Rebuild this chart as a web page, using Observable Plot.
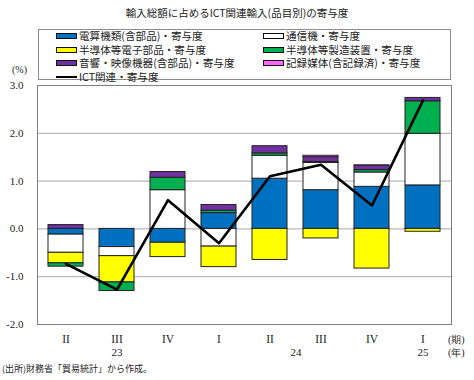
<!DOCTYPE html>
<html><head><meta charset="utf-8">
<script src="https://cdn.jsdelivr.net/npm/d3@7"></script>
<script src="https://cdn.jsdelivr.net/npm/@observablehq/plot@0.6"></script>
<style>
body{margin:0;background:#fff;}
#wrap{position:relative;width:474px;height:380px;font-family:"Noto Sans CJK JP",sans-serif;color:#222;}
#title{position:absolute;left:0;width:474px;top:5px;text-align:center;font-size:10.5px;}
#legend{position:absolute;left:38px;top:29px;width:413px;height:51px;border:1px solid #8c8c8c;box-sizing:border-box;}
.li{position:absolute;font-size:10.6px;line-height:12px;white-space:nowrap;}
.sw{display:inline-block;width:19px;height:4px;border:1px solid #111;vertical-align:middle;margin-right:2px;margin-top:-2px;}
.ln{display:inline-block;width:21px;height:0;border-top:2.5px solid #000;vertical-align:middle;margin-right:2px;margin-top:-2px;}
.note{position:absolute;font-size:9px;}
.unit{position:absolute;font-family:"Liberation Serif",serif;font-size:10px;}
</style></head>
<body><div id="wrap">
<div id="title">輸入総額に占めるICT関連輸入(品目別)の寄与度</div>
<div id="legend"></div>
<div class="unit" style="left:12px;top:64px;">(%)</div>
<div class="unit" style="left:448px;top:333px;">(期)</div>
<div class="unit" style="left:448px;top:346px;">(年)</div>
<div class="note" style="left:2px;top:362px;">(出所)財務省「貿易統計」から作成。</div>
<div id="chart"></div>
</div>
<script>
const quarters = ["II","III","IV","I","II","III","IV","I"];
const years = ["23","23","23","24","24","24","24","25"];
const yearLabels = [{year:"23", idx:1}, {year:"24", idx:4}, {year:"25", idx:7}];
const seriesNames = ["電算機類(含部品)・寄与度","通信機・寄与度","半導体等電子部品・寄与度","半導体等製造装置・寄与度","音響・映像機器(含部品)・寄与度","記録媒体(含記録済)・寄与度"];
const seriesColors = ["#0070C0","#FFFFFF","#FFFF00","#00B050","#7030A0","#FF66FF"];
const computers  = [-0.12,-0.38,-0.29, 0.33, 1.05, 0.81, 0.88, 0.91];
const telecom    = [-0.38,-0.19, 0.81,-0.37, 0.48, 0.57, 0.30, 1.08];
const semis      = [-0.22,-0.55,-0.30,-0.43,-0.65,-0.20,-0.83,-0.06];
const equipment  = [-0.07,-0.18, 0.26, 0.05, 0.05, 0.02, 0.05, 0.68];
const audio      = [ 0.08, 0.00, 0.12, 0.12, 0.15, 0.10, 0.09, 0.07];
const media      = [ 0.00, 0.00, 0.00, 0.00, 0.00, 0.03, 0.01, 0.00];
const ictName = "ICT関連・寄与度";
const ictTotal   = [-0.73,-1.27, 0.60,-0.30, 1.10, 1.34, 0.49, 2.69];
const yTicks = [-2,-1,0,1,2,3];

const seriesValues = [computers, telecom, semis, equipment, audio, media];
const idx = quarters.map((q,i)=>i);
const barData = [];
idx.forEach(i => seriesValues.forEach((vals,s) => {
  if (vals[i] !== 0) barData.push({i, series: seriesNames[s], value: vals[i]});
}));
const lineData = idx.map(i => ({i, value: ictTotal[i]}));

// legend
const leg = document.getElementById("legend");
const items = seriesNames.map((n,s)=>({name:n, color:seriesColors[s]})).concat([{name:ictName, line:true}]);
items.forEach((it,k)=>{
  const d = document.createElement("div");
  d.className = "li";
  d.style.left = (k%2===0 ? 17 : 224) + "px";
  d.style.top = (Math.floor(k/2)*13.6 + 0) + "px";
  d.innerHTML = (it.line ? '<span class="ln"></span>' : `<span class="sw" style="background:${it.color}"></span>`) + it.name;
  leg.appendChild(d);
});

const serif = "Liberation Serif, serif";
const chart = Plot.plot({
  width: 474, height: 380,
  marginTop: 85, marginBottom: 56, marginLeft: 37, marginRight: 23,
  style: {fontFamily: serif, fontSize: "11px", color: "#222", background: "transparent"},
  x: {type: "band", domain: idx, paddingInner: 0.32, paddingOuter: 0.16, label: null},
  y: {domain: [-2, 3], label: null},
  color: {domain: seriesNames, range: seriesColors},
  marks: [
    Plot.gridY(yTicks.filter(t => t > -2 && t < 3), {stroke: "#a6a6a6", strokeOpacity: 1}),
    Plot.frame({stroke: "#808080"}),
    Plot.axisY(yTicks, {tickSize: 0, tickPadding: 14, tickFormat: d => d.toFixed(1), label: null, fontSize: 11}),
    Plot.axisX({tickSize: 0, tickPadding: 10, tickFormat: i => quarters[i], label: null, fontSize: 11.5}),
    Plot.barY(barData, Plot.stackY({order: null}, {x: "i", y: "value", fill: "series", z: "series", stroke: "#222", strokeWidth: 1, inset: 0})),
    Plot.line(lineData, {x: "i", y: "value", stroke: "#000", strokeWidth: 2.6}),
    Plot.text(yearLabels.filter(d => d.year !== "24"), {x: "idx", text: "year", frameAnchor: "bottom", dy: 31, fontSize: 11}),
    Plot.text(yearLabels.filter(d => d.year === "24"), {x: "idx", text: "year", frameAnchor: "bottom", dy: 31, dx: 26, fontSize: 11})
  ]
});
chart.style.position = "absolute";
chart.style.left = "0px";
chart.style.top = "0px";
document.getElementById("chart").appendChild(chart);
</script>
</body></html>
